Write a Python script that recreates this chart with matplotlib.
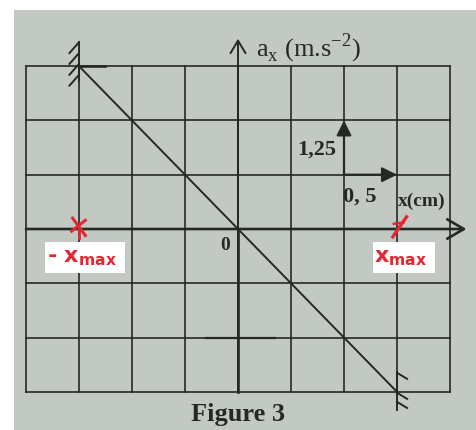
import matplotlib
matplotlib.use("Agg")
import matplotlib.pyplot as plt
from matplotlib.patches import Rectangle
import numpy as np

# grid and data (x in cm, a in m/s^2)
x_grid = [-2.0, -1.5, -1.0, -0.5, 0.0, 0.5, 1.0, 1.5, 2.0]
a_grid = [-3.75, -2.5, -1.25, 0.0, 1.25, 2.5, 3.75]
x_line = [-1.5, 1.5]
a_line = [3.75, -3.75]
x_max = 1.5
x_scale = 0.5
a_scale = 1.25

ink = "#262826"
red = "#e52632"
paper = "#c2c9c3"

fig = plt.figure(figsize=(4.76, 4.30), dpi=100)
fig.patch.set_facecolor("white")
ax = fig.add_axes([0, 0, 1, 1])
ax.set_xlim(-2.245, 2.245)
ax.set_ylim(-4.627, 5.272)
ax.axis("off")

# photo background
ax.add_patch(Rectangle((14 / 476, 0), 1, 1 - 10 / 430, transform=fig.transFigure,
                       facecolor=paper, edgecolor="none", zorder=0))

# grid
for xg in x_grid:
    ax.plot([xg, xg], [a_grid[0], a_grid[-1]], color=ink, lw=1.2, zorder=2)
for ag in a_grid:
    ax.plot([x_grid[0], x_grid[-1]], [ag, ag], color=ink, lw=1.2, zorder=2)

# axes with arrows
ax.annotate("", xy=(2.155, 0), xytext=(-2.0, 0),
            arrowprops=dict(arrowstyle="->,head_length=0.6,head_width=0.35", color=ink, lw=1.9,
                            mutation_scale=20, shrinkA=0, shrinkB=0), zorder=3)
ax.annotate("", xy=(0, 4.38), xytext=(0, -3.75),
            arrowprops=dict(arrowstyle="->,head_length=0.5,head_width=0.3", color=ink, lw=1.4,
                            mutation_scale=18, shrinkA=0, shrinkB=0), zorder=3)
ax.plot([0, 0], [0, -3.75], color=ink, lw=1.9, zorder=3)
ax.plot([-0.3, 0.35], [-2.5, -2.5], color=ink, lw=1.6, zorder=3)

# the a(x) line
ax.plot(x_line, a_line, color=ink, lw=1.4, zorder=4)

# wall marks at both ends
ax.plot([x_line[0], x_line[0]], [4.3, 3.4], color=ink, lw=1.4, zorder=4)
for yy in (4.3, 4.05, 3.8, 3.55):
    ax.plot([x_line[0], x_line[0] - 0.09], [yy, yy - 0.25], color=ink, lw=1.4, zorder=4)
ax.plot([x_line[0], x_line[0] + 0.25], [a_line[0], a_line[0]], color=ink, lw=1.9, zorder=4)
ax.plot([x_line[1], x_line[1]], [-3.29, -4.16], color=ink, lw=1.4, zorder=4)
for yy in (-3.31, -3.77, -3.98):
    ax.plot([x_line[1], x_line[1] + 0.095], [yy, yy - 0.14], color=ink, lw=1.4, zorder=4)

# scale arrows
ax.annotate("", xy=(2 * x_scale, 2 * a_scale), xytext=(2 * x_scale, a_scale),
            arrowprops=dict(arrowstyle="-|>,head_length=0.5,head_width=0.25", color=ink, lw=1.6,
                            mutation_scale=18, shrinkA=0, shrinkB=0), zorder=5)
ax.annotate("", xy=(3 * x_scale, a_scale), xytext=(2 * x_scale, a_scale),
            arrowprops=dict(arrowstyle="-|>,head_length=0.5,head_width=0.25", color=ink, lw=1.6,
                            mutation_scale=18, shrinkA=0, shrinkB=0), zorder=5)

serif = "Liberation Serif"
ax.text(0.17, 4.15, r"a$_\mathregular{x}$ (m.s$^{\mathregular{-2}}$)", family=serif,
        fontsize=19, color=ink, ha="left", va="center", zorder=6)
ax.text(0.93, 1.82, "1,25", family=serif, fontsize=16, color=ink, ha="right", va="center",
        fontweight="semibold", zorder=6)
ax.text(0.99, 0.74, "0, 5", family=serif, fontsize=16, color=ink, ha="left", va="center",
        fontweight="semibold", zorder=6)
ax.text(1.51, 0.63, "x(cm)", family=serif, fontsize=14, color=ink, ha="left", va="center",
        fontweight="bold", zorder=6)
ax.text(-0.08, -0.37, "0", family=serif, fontsize=14, color=ink, ha="right", va="center",
        fontweight="bold", zorder=6)
ax.text(0.0, -4.28, "Figure 3", family=serif, fontsize=19, color=ink, ha="center", va="center",
        fontweight="bold", zorder=6)

# red marks for -x_max and x_max
ax.plot([-x_max - 0.06, -x_max + 0.06], [0.25, -0.15], color=red, lw=2.2, zorder=7)
ax.plot([-x_max - 0.07, -x_max + 0.06], [-0.05, 0.2], color=red, lw=2.2, zorder=7)
ax.plot([-x_max, -x_max], [0.0, -0.2], color=red, lw=2.0, zorder=7)
ax.plot([x_max - 0.04, x_max + 0.09], [-0.18, 0.28], color=red, lw=2.4, zorder=7)
ax.plot([x_max - 0.03, x_max + 0.06], [0.12, 0.15], color=red, lw=1.8, zorder=7)

# white label boxes
ax.add_patch(Rectangle((-x_max - 0.32, -1.01), 0.754, 0.71, facecolor="white",
                       edgecolor="none", zorder=8))
ax.add_patch(Rectangle((x_max - 0.23, -1.01), 0.585, 0.71, facecolor="white",
                       edgecolor="none", zorder=8))
ax.text(-x_max - 0.30, -0.66, r"- x$_{\mathregular{max}}$", family="DejaVu Sans", fontsize=16,
        color=red, ha="left", va="center", fontweight="bold", zorder=9)
ax.text(x_max - 0.215, -0.66, r"x$_{\mathregular{max}}$", family="DejaVu Sans", fontsize=16,
        color=red, ha="left", va="center", fontweight="bold", zorder=9)

fig.savefig("out.png", dpi=100)
